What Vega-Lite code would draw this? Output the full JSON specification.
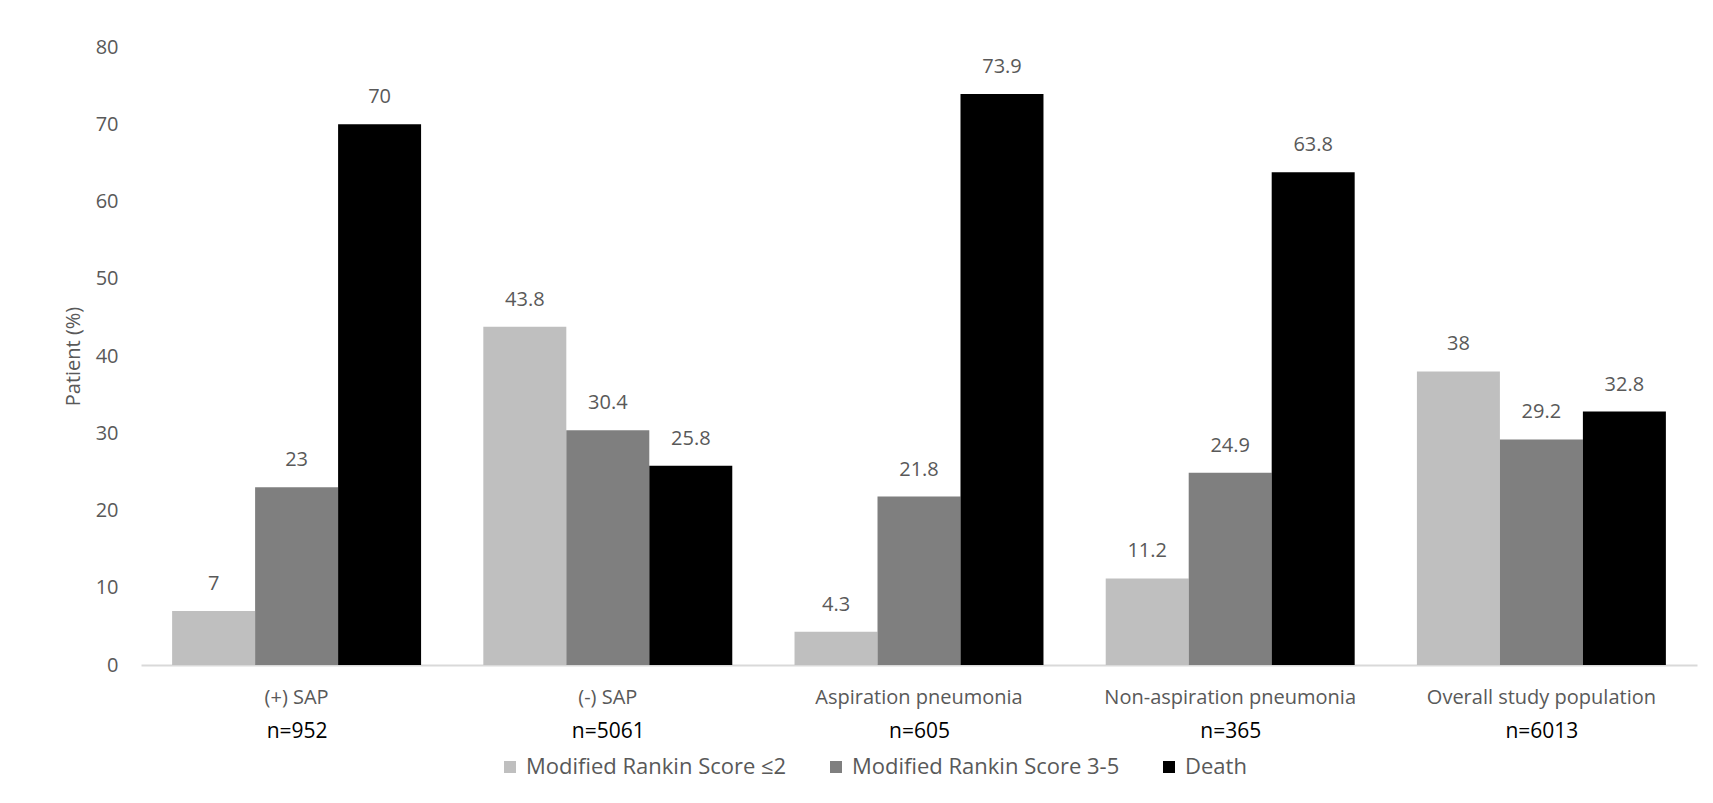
{
  "$schema": "https://vega.github.io/schema/vega-lite/v6.json",
  "width": 1556,
  "height": 618,
  "autosize": {"type": "none"},
  "padding": {"left": 141, "top": 47, "right": 16, "bottom": 138},
  "background": "white",
  "config": {"view": {"stroke": null}, "font": "Open Sans"},
  "data": {
    "values": [
      {"group": "(+) SAP", "n_label": "n=952", "series": "Modified Rankin Score ≤2", "value": 7},
      {"group": "(+) SAP", "n_label": "n=952", "series": "Modified Rankin Score 3-5", "value": 23},
      {"group": "(+) SAP", "n_label": "n=952", "series": "Death", "value": 70},
      {"group": "(-) SAP", "n_label": "n=5061", "series": "Modified Rankin Score ≤2", "value": 43.8},
      {"group": "(-) SAP", "n_label": "n=5061", "series": "Modified Rankin Score 3-5", "value": 30.4},
      {"group": "(-) SAP", "n_label": "n=5061", "series": "Death", "value": 25.8},
      {"group": "Aspiration pneumonia", "n_label": "n=605", "series": "Modified Rankin Score ≤2", "value": 4.3},
      {"group": "Aspiration pneumonia", "n_label": "n=605", "series": "Modified Rankin Score 3-5", "value": 21.8},
      {"group": "Aspiration pneumonia", "n_label": "n=605", "series": "Death", "value": 73.9},
      {"group": "Non-aspiration pneumonia", "n_label": "n=365", "series": "Modified Rankin Score ≤2", "value": 11.2},
      {"group": "Non-aspiration pneumonia", "n_label": "n=365", "series": "Modified Rankin Score 3-5", "value": 24.9},
      {"group": "Non-aspiration pneumonia", "n_label": "n=365", "series": "Death", "value": 63.8},
      {"group": "Overall study population", "n_label": "n=6013", "series": "Modified Rankin Score ≤2", "value": 38},
      {"group": "Overall study population", "n_label": "n=6013", "series": "Modified Rankin Score 3-5", "value": 29.2},
      {"group": "Overall study population", "n_label": "n=6013", "series": "Death", "value": 32.8}
    ]
  },
  "layer": [
    {
      "encoding": {
        "x": {
          "field": "group",
          "type": "nominal",
          "sort": ["(+) SAP", "(-) SAP", "Aspiration pneumonia", "Non-aspiration pneumonia", "Overall study population"],
          "scale": {"paddingInner": 0.2, "paddingOuter": 0.1},
          "axis": {
            "title": null,
            "orient": "bottom",
            "labelAngle": 0,
            "domainColor": "#d9d9d9",
            "domainWidth": 2,
            "ticks": false,
            "labelFont": "Open Sans",
            "labelFontSize": 20,
            "labelColor": "#595959",
            "labelPadding": 22,
            "labelLimit": 0
          }
        },
        "xOffset": {
          "field": "series",
          "type": "nominal",
          "sort": ["Modified Rankin Score ≤2", "Modified Rankin Score 3-5", "Death"],
          "scale": {"paddingInner": 0, "paddingOuter": 0}
        },
        "y": {
          "field": "value",
          "type": "quantitative",
          "scale": {"domain": [0, 80]},
          "axis": {
            "title": "Patient (%)",
            "values": [0, 10, 20, 30, 40, 50, 60, 70, 80],
            "grid": false,
            "domain": false,
            "ticks": false,
            "labelFont": "Open Sans",
            "labelFontSize": 20,
            "labelColor": "#595959",
            "labelPadding": 23,
            "titleFont": "Open Sans",
            "titleFontSize": 20,
            "titleFontWeight": "normal",
            "titleColor": "#595959",
            "titlePadding": 12
          }
        }
      },
      "layer": [
        {
          "mark": {"type": "bar"},
          "encoding": {
            "color": {
              "field": "series",
              "type": "nominal",
              "sort": ["Modified Rankin Score ≤2", "Modified Rankin Score 3-5", "Death"],
              "scale": {"range": ["#bfbfbf", "#7f7f7f", "#000000"]},
              "legend": {
                "title": null,
                "orient": "none",
                "direction": "horizontal",
                "legendX": 358,
                "legendY": 709,
                "symbolType": "square",
                "symbolSize": 144,
                "symbolStrokeWidth": 0,
                "labelFont": "Open Sans",
                "labelFontSize": 22,
                "labelColor": "#595959",
                "labelOffset": 5,
                "labelLimit": 0,
                "columnPadding": 38
              }
            }
          }
        },
        {
          "mark": {"type": "text", "baseline": "middle", "dy": -27, "fontSize": 20, "color": "#595959", "font": "Open Sans"},
          "encoding": {
            "text": {"field": "value", "type": "nominal"}
          }
        }
      ]
    },
    {
      "mark": {"type": "text", "text": "", "opacity": 0},
      "encoding": {
        "x": {
          "field": "n_label",
          "type": "nominal",
          "sort": ["n=952", "n=5061", "n=605", "n=365", "n=6013"],
          "scale": {"paddingInner": 0.2, "paddingOuter": 0.1},
          "axis": {
            "title": null,
            "orient": "bottom",
            "labelAngle": 0,
            "domain": false,
            "ticks": false,
            "labelFont": "Open Sans",
            "labelFontSize": 21,
            "labelFontWeight": "normal",
            "labelColor": "#000000",
            "labelPadding": 55,
            "labelLimit": 0
          }
        }
      }
    }
  ],
  "resolve": {"scale": {"x": "independent"}, "axis": {"x": "independent"}}
}
